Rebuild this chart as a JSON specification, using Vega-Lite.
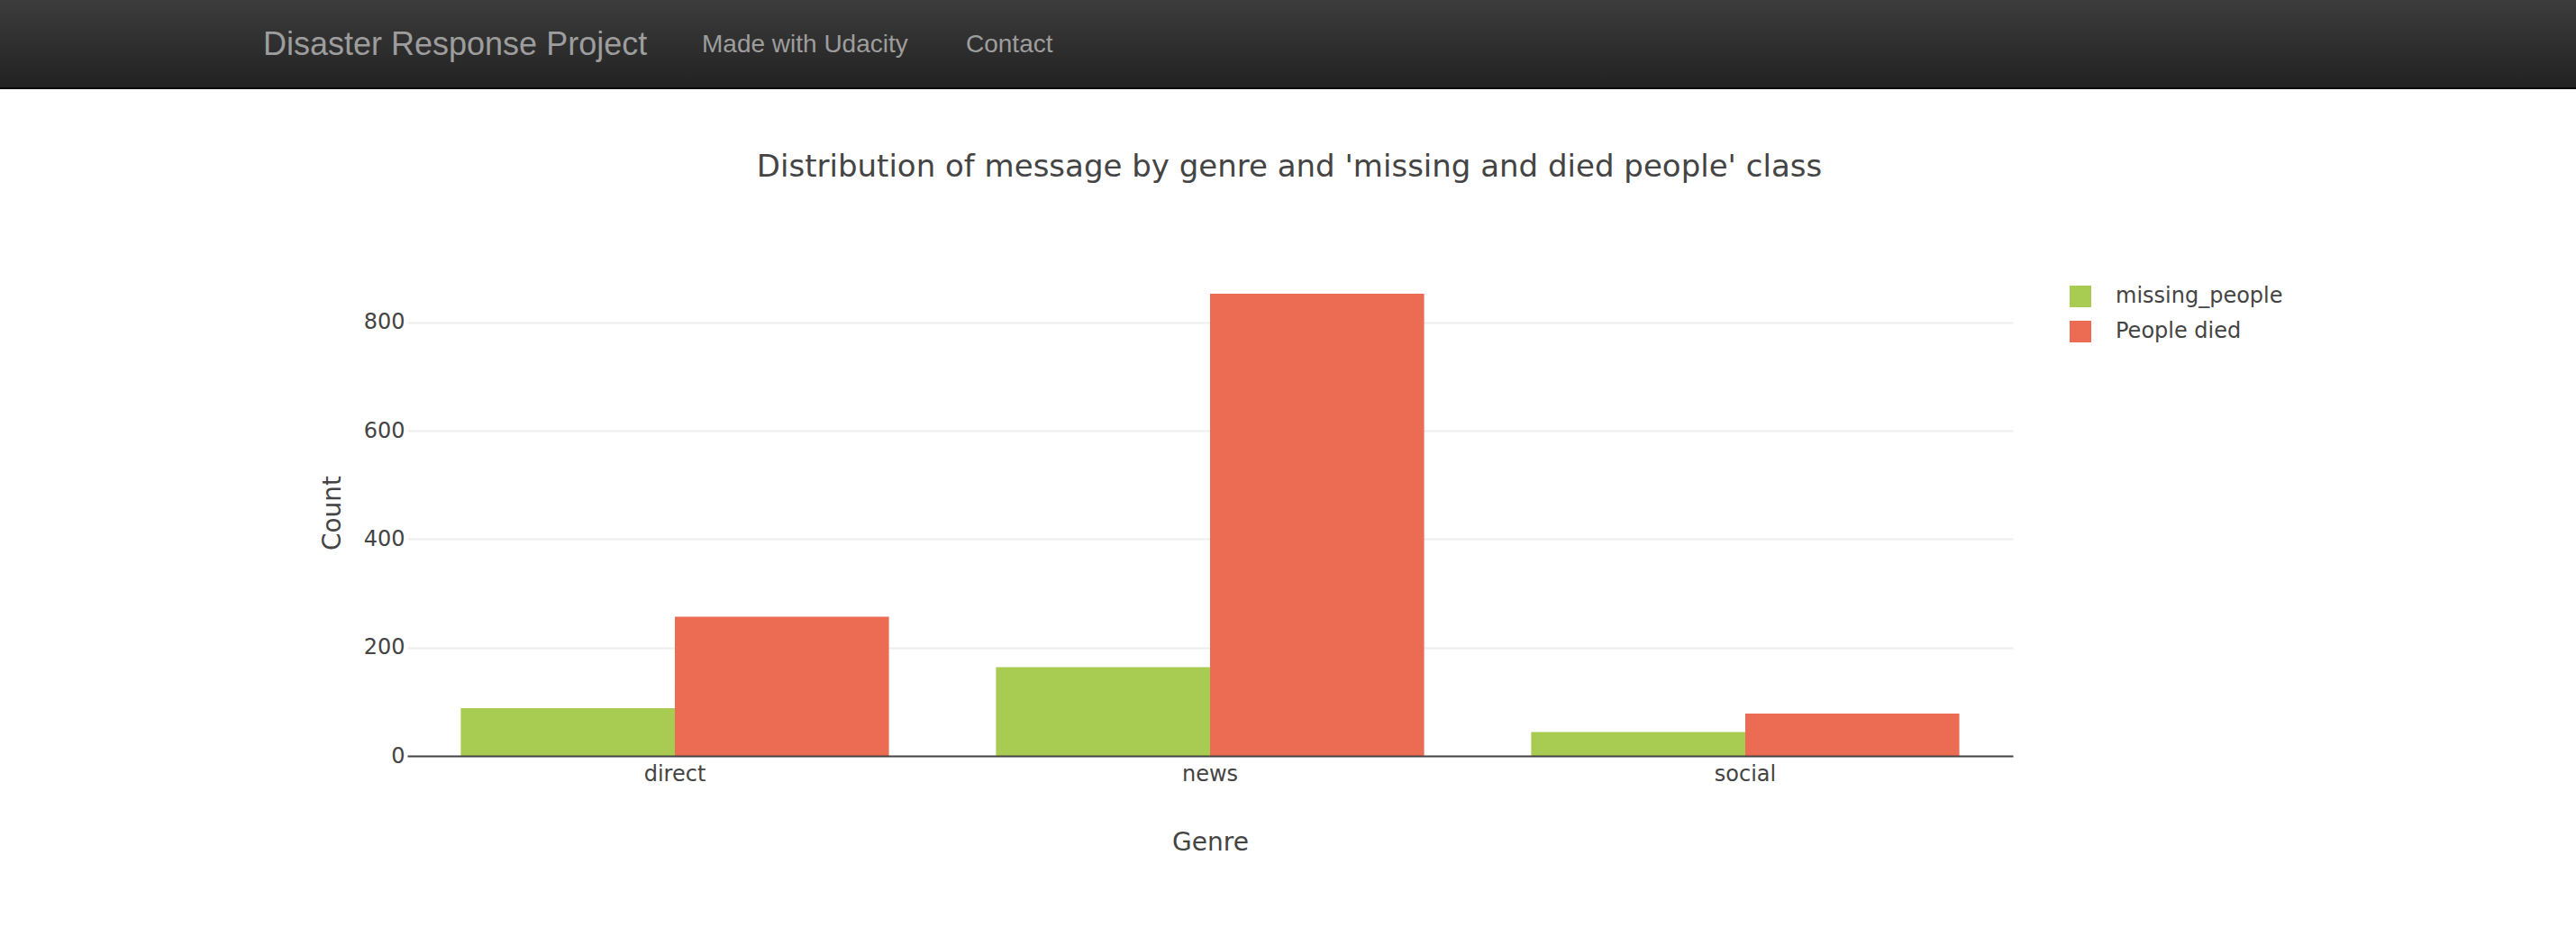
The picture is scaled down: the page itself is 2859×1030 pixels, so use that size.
{
  "$schema": "https://vega.github.io/schema/vega-lite/v6.json",
  "padding": 0,
  "background": "white",
  "spacing": 70,
  "config": {"view": {"stroke": null}, "font": "DejaVu Sans"},
  "resolve": {"legend": {"color": "independent"}, "scale": {"color": "independent"}},
  "vconcat": [
    {
      "width": 2859,
      "height": 99,
      "view": {
        "stroke": null,
        "fill": {
          "gradient": "linear", "x1": 0, "y1": 0, "x2": 0, "y2": 1,
          "stops": [
            {"offset": 0, "color": "#3c3c3c"},
            {"offset": 0.979, "color": "#222222"},
            {"offset": 0.98, "color": "#080808"},
            {"offset": 1, "color": "#080808"}
          ]
        }
      },
      "layer": [
        {
          "data": {"values": [{"item": "Disaster Response Project"}]},
          "mark": {"type": "text", "align": "left", "baseline": "middle", "font": "Liberation Sans", "fontSize": 36, "color": "#9d9d9d"},
          "encoding": {
            "x": {"field": "item", "type": "nominal", "scale": {"type": "point", "domain": ["Disaster Response Project"], "range": [292, 292], "padding": 0}, "axis": null},
            "text": {"field": "item"}
          }
        },
        {
          "data": {"values": [{"item": "Made with Udacity"}, {"item": "Contact"}]},
          "mark": {"type": "text", "align": "left", "baseline": "middle", "font": "Liberation Sans", "fontSize": 28, "color": "#9d9d9d"},
          "encoding": {
            "x": {"field": "item", "type": "nominal", "scale": {"type": "point", "domain": ["Made with Udacity", "Contact"], "range": [779, 1072], "padding": 0}, "axis": null},
            "text": {"field": "item"}
          }
        }
      ],
      "resolve": {"scale": {"x": "independent"}}
    },
    {
      "spacing": 0,
      "resolve": {"legend": {"color": "independent"}, "scale": {"color": "independent"}},
      "hconcat": [
        {
          "width": 355,
          "height": 10,
          "view": {"stroke": null, "fill": "white"},
          "data": {"values": [{"s": ""}]},
          "mark": {"type": "text"},
          "encoding": {"text": {"field": "s"}}
        },
        {
          "width": 1782,
          "height": 540,
          "title": {
            "text": "Distribution of message by genre and 'missing and died people' class",
            "font": "DejaVu Sans", "fontSize": 34, "fontWeight": "normal", "color": "#444444",
            "anchor": "middle", "frame": "group", "dx": 88, "offset": 96
          },
          "data": {
            "values": [
              {"genre": "direct", "class": "missing_people", "count": 88},
              {"genre": "direct", "class": "People died", "count": 257},
              {"genre": "news", "class": "missing_people", "count": 164},
              {"genre": "news", "class": "People died", "count": 853},
              {"genre": "social", "class": "missing_people", "count": 44},
              {"genre": "social", "class": "People died", "count": 78}
            ]
          },
          "mark": {"type": "bar"},
          "encoding": {
            "x": {
              "field": "genre", "type": "nominal", "sort": ["direct", "news", "social"],
              "scale": {"paddingInner": 0.2, "paddingOuter": 0.1},
              "axis": {
                "title": "Genre", "labelAngle": 0, "ticks": false, "labelPadding": 8,
                "labelFontSize": 24, "labelFont": "DejaVu Sans", "labelColor": "#444444",
                "titleFontSize": 28, "titleFont": "DejaVu Sans", "titleFontWeight": "normal", "titleColor": "#444444", "titlePadding": 50,
                "domainColor": "#444444", "domainWidth": 2, "grid": false, "zindex": 1
              }
            },
            "xOffset": {
              "field": "class", "type": "nominal", "sort": ["missing_people", "People died"],
              "scale": {"paddingInner": 0, "paddingOuter": 0}
            },
            "y": {
              "field": "count", "type": "quantitative",
              "scale": {"domain": [0, 898], "nice": false},
              "axis": {
                "title": "Count", "values": [0, 200, 400, 600, 800], "domain": false, "ticks": false, "labelPadding": 3,
                "labelFontSize": 24, "labelFont": "DejaVu Sans", "labelColor": "#444444",
                "titleFontSize": 28, "titleFont": "DejaVu Sans", "titleFontWeight": "normal", "titleColor": "#444444", "titlePadding": 20,
                "gridColor": "#eeeeee", "gridWidth": 2
              }
            },
            "color": {
              "field": "class", "type": "nominal", "sort": ["missing_people", "People died"],
              "scale": {"domain": ["missing_people", "People died"], "range": ["#a7cc51", "#ec6c53"]},
              "legend": {
                "title": null, "orient": "right", "offset": 45, "padding": 18,
                "symbolType": "square", "symbolSize": 576, "symbolStrokeWidth": 0, "symbolOpacity": 1,
                "labelFontSize": 24, "labelFont": "DejaVu Sans", "labelColor": "#444444", "labelOffset": 27, "labelLimit": 0, "rowPadding": 15
              }
            }
          }
        }
      ]
    }
  ]
}
